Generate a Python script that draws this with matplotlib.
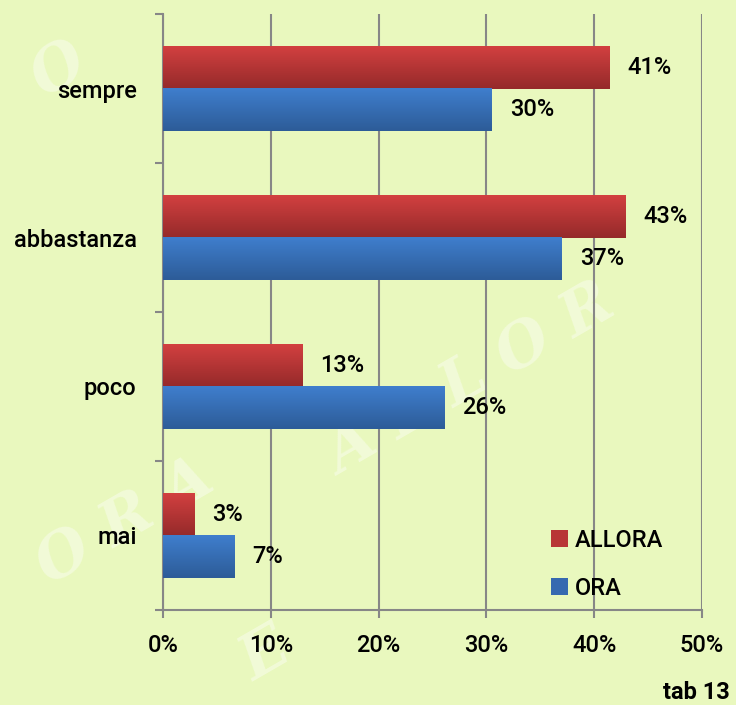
import numpy as np
import matplotlib
matplotlib.use("Agg")
import matplotlib.pyplot as plt
from matplotlib.colors import LinearSegmentedColormap
from matplotlib.patches import Patch
from matplotlib.ticker import FuncFormatter

categories = ['sempre', 'abbastanza', 'poco', 'mai']
allora = [41.4, 42.9, 12.9, 2.9]
ora = [30.5, 37.0, 26.1, 6.6]
allora_labels = ['41%', '43%', '13%', '3%']
ora_labels = ['30%', '37%', '26%', '7%']
x_ticks = [0, 10, 20, 30, 40, 50]

bg = '#E9F8BE'
grid_col = '#878787'
red_top, red_bot = '#D24040', '#952A2A'
blue_top, blue_bot = '#3F7ECD', '#2D5C98'
font = 'Roboto'


def gradient_fill(ax, bars, top, bottom):
    cmap = LinearSegmentedColormap.from_list('grad', [top, bottom])
    grad = np.linspace(0, 1, 64).reshape(-1, 1)
    for b in bars:
        x0, y0 = b.get_x(), b.get_y()
        w, h = b.get_width(), b.get_height()
        im = ax.imshow(grad, cmap=cmap, extent=(x0, x0 + w, y0 + h, y0),
                       aspect='auto', origin='upper', zorder=3)
        im.set_clip_path(b)


fig = plt.figure(figsize=(7.36, 7.05), dpi=100, facecolor=bg)

# faint watermark behind the chart
wm = dict(color='white', alpha=0.4, fontsize=44, family='DejaVu Serif',
          style='italic', weight='bold', rotation=30, zorder=-1,
          ha='center', va='center')
fig.text(0.17, 0.26, 'O R A', **wm)
fig.text(0.64, 0.46, 'A L L O R', **wm)
fig.text(0.36, 0.07, 'E', **wm)
fig.text(0.08, 0.90, 'O', **wm)

ax = fig.add_axes([0.2215, 0.1348, 0.7323, 0.8453])
ax.set_facecolor('none')

y = np.arange(len(categories))
h = 0.287
off = 0.142
bars_a = ax.barh(y - off, allora, height=h, color=red_bot, zorder=2, linewidth=0)
bars_o = ax.barh(y + off, ora, height=h, color=blue_bot, zorder=2, linewidth=0)
gradient_fill(ax, bars_a, red_top, red_bot)
gradient_fill(ax, bars_o, blue_top, blue_bot)

for bars, labels in ((bars_a, allora_labels), (bars_o, ora_labels)):
    for b, lab in zip(bars, labels):
        ax.annotate(lab, (b.get_width(), b.get_y() + b.get_height() / 2),
                    xytext=(13, 0), textcoords='offset points',
                    ha='left', va='center', fontsize=17, family=font,
                    weight='medium', zorder=5)

ax.set_xlim(0, 50)
ax.set_ylim(len(categories) - 0.5, -0.5)
ax.set_xticks(x_ticks)
ax.xaxis.set_major_formatter(FuncFormatter(lambda v, p: '%d%%' % v))
ax.set_yticks(y)
ax.set_yticklabels(categories)
ax.set_yticks(np.arange(len(categories) + 1) - 0.5, minor=True)

ax.grid(axis='x', color=grid_col, linewidth=1.5, zorder=1)
ax.set_axisbelow(True)
for s in ('top', 'right'):
    ax.spines[s].set_visible(False)
for s in ('left', 'bottom'):
    ax.spines[s].set_color(grid_col)
    ax.spines[s].set_linewidth(1.5)

ax.tick_params(axis='y', which='major', length=0, pad=19)
ax.tick_params(axis='y', which='minor', length=6, width=1.5, color=grid_col)
ax.tick_params(axis='x', length=6, width=1.5, color=grid_col, pad=11)
for t in ax.get_xticklabels() + ax.get_yticklabels():
    t.set_fontsize(17)
    t.set_family(font)
    t.set_fontweight('medium')

handles = [Patch(facecolor='#B83636', label='ALLORA'),
           Patch(facecolor='#3669B0', label='ORA')]
leg = ax.legend(handles=handles, loc='upper left', bbox_to_anchor=(0.698, 0.156),
                frameon=False, handlelength=0.7, handleheight=0.7,
                handletextpad=0.3, labelspacing=1.05, borderpad=0,
                prop={'family': font, 'size': 17, 'weight': 'medium'})

fig.text(0.992, 0.018, 'tab 13', ha='right', va='center', fontsize=17,
         family=font, weight='bold')

fig.savefig('out.png', dpi=100, facecolor=bg)
